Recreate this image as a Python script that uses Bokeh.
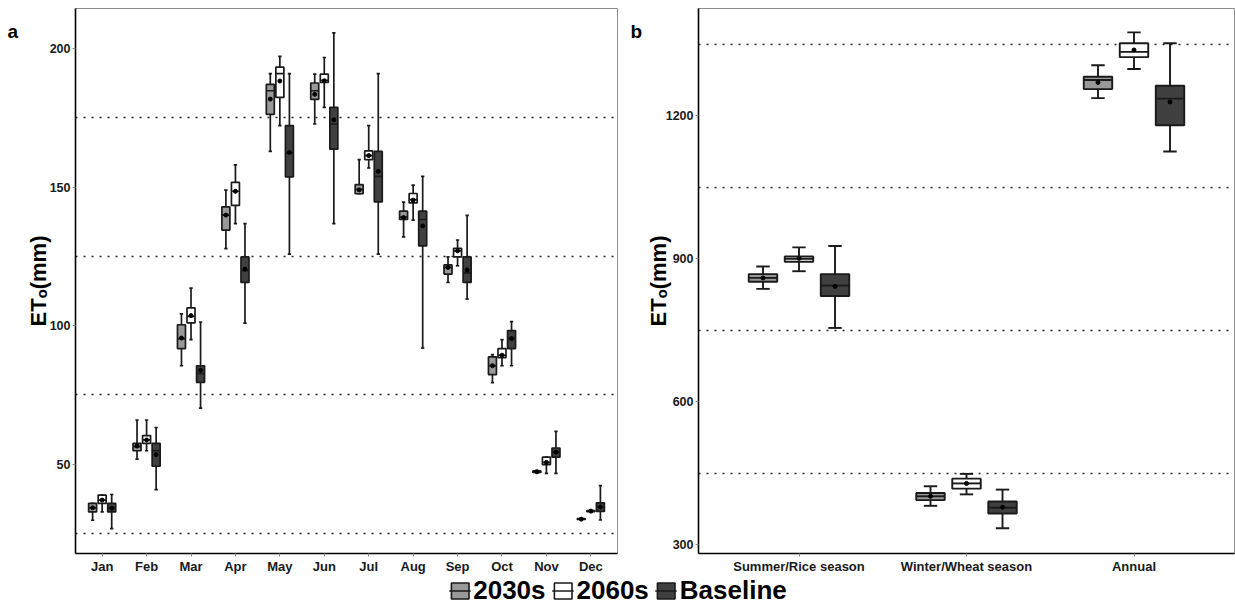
import numpy as np
from bokeh.plotting import figure
from bokeh.models import ColumnDataSource, Range1d, FixedTicker, Legend, LegendItem
from bokeh.core.properties import value
from bokeh.layouts import column, row
from bokeh.embed import file_html
from bokeh.resources import INLINE

# ---------------- data ----------------
months = ["Jan", "Feb", "Mar", "Apr", "May", "Jun", "Jul", "Aug", "Sep", "Oct", "Nov", "Dec"]
seasons = ["Summer/Rice season", "Winter/Wheat season", "Annual"]
series = ["2030s", "2060s", "Baseline"]
panel_letters = ["a", "b"]

# rows: [lower whisker, Q1, median, Q3, upper whisker, mean]  (ETo, mm)
a_2030s = [
    [29.7, 32.7, 34.2, 35.8, 35.8, 34.2],
    [51.8, 54.8, 56.3, 57.5, 65.9, 56.5],
    [85.5, 91.7, 95.3, 100.3, 104.2, 95.5],
    [127.8, 134.5, 139.9, 142.9, 148.9, 139.9],
    [162.9, 176.3, 184.8, 187.1, 191.0, 181.8],
    [172.8, 181.7, 184.8, 187.6, 190.8, 183.5],
    [147.6, 147.6, 149.2, 150.9, 159.9, 149.0],
    [132.0, 138.3, 139.2, 141.3, 144.6, 139.0],
    [115.6, 118.6, 121.0, 121.9, 124.8, 121.0],
    [79.4, 82.3, 85.5, 88.7, 89.5, 85.5],
    [47.0, 47.0, 47.2, 47.5, 47.6, 47.2],
    [29.9, 30.0, 30.1, 30.3, 30.4, 30.1],
]
a_2060s = [
    [32.7, 35.8, 37.0, 38.8, 38.8, 37.0],
    [54.8, 57.5, 58.7, 60.3, 65.9, 58.7],
    [94.9, 101.0, 103.3, 106.4, 113.5, 103.6],
    [136.8, 143.4, 148.5, 151.7, 158.0, 148.5],
    [172.2, 182.4, 191.0, 193.3, 197.2, 188.3],
    [178.8, 187.8, 188.6, 190.8, 196.8, 188.4],
    [156.9, 159.9, 161.4, 163.1, 172.2, 161.4],
    [138.1, 144.3, 145.5, 147.7, 150.7, 145.3],
    [121.6, 124.8, 127.0, 127.9, 130.9, 127.0],
    [85.5, 88.4, 89.3, 91.7, 94.9, 89.3],
    [46.6, 49.8, 50.6, 52.5, 52.5, 50.6],
    [32.7, 32.8, 33.0, 33.2, 33.3, 33.0],
]
a_baseline = [
    [26.7, 32.7, 34.2, 35.8, 39.0, 34.0],
    [40.8, 49.2, 54.8, 57.5, 63.2, 53.4],
    [70.2, 79.5, 82.7, 85.5, 101.3, 83.9],
    [100.9, 115.6, 119.8, 124.8, 136.8, 120.4],
    [125.8, 153.7, 162.3, 172.2, 191.0, 162.5],
    [136.8, 163.7, 172.8, 178.8, 205.7, 174.3],
    [125.8, 144.7, 153.9, 162.9, 191.0, 155.7],
    [91.9, 128.8, 138.3, 141.3, 153.9, 136.0],
    [109.6, 115.6, 119.0, 124.8, 139.8, 120.1],
    [85.5, 91.7, 95.3, 98.2, 101.4, 95.3],
    [46.6, 52.5, 54.3, 55.8, 61.8, 54.3],
    [29.8, 32.9, 34.5, 36.0, 42.2, 34.5],
]

b_2030s = [
    [837, 852, 860, 868, 884, 860],
    [382, 394, 402, 409, 423, 402],
    [1237, 1256, 1275, 1282, 1306, 1270],
]
b_2060s = [
    [874, 894, 900, 905, 924, 901],
    [406, 418, 429, 439, 449, 429],
    [1298, 1323, 1334, 1352, 1375, 1338],
]
b_baseline = [
    [755, 822, 844, 868, 927, 842],
    [335, 366, 378, 391, 416, 379],
    [1125, 1180, 1236, 1263, 1352, 1229],
]

a_major = [50, 100, 150, 200]
a_minor = [25, 75, 125, 175]
b_major = [300, 600, 900, 1200]
b_minor = [450, 750, 1050, 1350]

# ---------------- styles ----------------
FILLS = {"2030s": "#999999", "2060s": "#ffffff", "Baseline": "#404040"}
FONT = "Liberation Sans"
INK = "#1a1a1a"
ROW_H = 576


def draw_boxes(p, groups, dodge, box_w, cap_w, lw):
    for k, (name, rows) in enumerate(groups):
        arr = np.array(rows, dtype=float)
        n = arr.shape[0]
        x = np.arange(1, n + 1) + (k - 1) * dodge
        src = ColumnDataSource(dict(
            x=x, lo=arr[:, 0], q1=arr[:, 1], med=arr[:, 2], q3=arr[:, 3],
            hi=arr[:, 4], mean=arr[:, 5],
            xl=x - box_w / 2, xr=x + box_w / 2, cl=x - cap_w / 2, cr=x + cap_w / 2,
        ))
        p.segment(x0="x", y0="lo", x1="x", y1="hi", source=src, line_color=INK, line_width=lw)
        p.segment(x0="cl", y0="lo", x1="cr", y1="lo", source=src, line_color=INK, line_width=lw)
        p.segment(x0="cl", y0="hi", x1="cr", y1="hi", source=src, line_color=INK, line_width=lw)
        p.vbar(x="x", width=box_w, bottom="q1", top="q3", source=src,
               fill_color=FILLS[name], line_color=INK, line_width=lw)
        p.segment(x0="xl", y0="med", x1="xr", y1="med", source=src, line_color=INK, line_width=lw)
        p.scatter(x="x", y="mean", source=src, size=4, color="black")


def style(p, major, minor, ylabel, title_standoff):
    yt = FixedTicker(ticks=major, minor_ticks=minor)
    p.yaxis.ticker = yt
    p.ygrid.ticker = yt
    p.ygrid.grid_line_color = None
    p.ygrid.minor_grid_line_color = "#262626"
    p.ygrid.minor_grid_line_dash = "2 6"
    p.ygrid.minor_grid_line_width = 1.6
    p.xgrid.visible = False
    for ax in (p.xaxis, p.yaxis):
        ax.axis_line_color = "black"
        ax.axis_line_width = 1.6
        ax.major_tick_out = 3
        ax.major_tick_in = 0
        ax.major_tick_line_color = "#888888"
        ax.minor_tick_out = 0
        ax.minor_tick_in = 0
        ax.major_label_text_font = FONT
        ax.major_label_text_font_style = "bold"
        ax.major_label_text_color = INK
        ax.major_label_standoff = 2
    p.xaxis.major_label_text_font_size = "13px"
    p.yaxis.major_label_text_font_size = "12.5px"
    p.yaxis.axis_label = ylabel
    p.yaxis.axis_label_text_font = FONT
    p.yaxis.axis_label_text_font_size = "22px"
    p.yaxis.axis_label_text_font_style = "bold"
    p.yaxis.axis_label_text_color = "black"
    p.yaxis.axis_label_standoff = title_standoff
    p.outline_line_color = "#8c8c8c"
    p.outline_line_width = 1
    p.background_fill_color = "white"
    p.border_fill_color = "white"


def letter_strip(text, width, left):
    # narrow blank strip whose own frame carries the panel letter
    f = figure(width=width, height=ROW_H, min_border=0, x_axis_type=None, y_axis_type=None,
               x_range=Range1d(0, width), y_range=Range1d(ROW_H, 0),
               toolbar_location=None, output_backend="svg")
    f.outline_line_color = None
    f.background_fill_color = "white"
    f.border_fill_color = "white"
    f.text(x=[left], y=[24], text=[text], text_font=value(FONT), text_font_style="bold",
           text_font_size="19px", text_color="black", text_baseline="alphabetic",
           text_align="left")
    return f


ylab = "ET\u2092(mm)"

# ---------------- panel a ----------------
fa = letter_strip(panel_letters[0], 20, 7)
pa = figure(width=610, height=ROW_H, min_border_left=55, min_border_right=13,
            min_border_top=8, min_border_bottom=20,
            x_range=Range1d(0.4, 12.6), y_range=Range1d(17.7, 214.5),
            toolbar_location=None, output_backend="svg")
style(pa, a_major, a_minor, ylab, -4)
pa.xaxis.ticker = FixedTicker(ticks=list(range(1, len(months) + 1)))
pa.xaxis.major_label_overrides = {i + 1: m for i, m in enumerate(months)}
draw_boxes(pa, [("2030s", a_2030s), ("2060s", a_2060s), ("Baseline", a_baseline)],
           dodge=0.215, box_w=0.18, cap_w=0.075, lw=1.7)

# ---------------- panel b ----------------
fb = letter_strip(panel_letters[1], 12, 0)
pb = figure(width=593, height=ROW_H, min_border_left=50, min_border_right=1,
            min_border_top=8, min_border_bottom=20,
            x_range=Range1d(0.4, 3.6), y_range=Range1d(282, 1425),
            toolbar_location=None, output_backend="svg")
style(pb, b_major, b_minor, ylab, -8)
pb.xaxis.ticker = FixedTicker(ticks=list(range(1, len(seasons) + 1)))
pb.xaxis.major_label_overrides = {i + 1: s for i, s in enumerate(seasons)}
draw_boxes(pb, [("2030s", b_2030s), ("2060s", b_2060s), ("Baseline", b_baseline)],
           dodge=0.215, box_w=0.17, cap_w=0.08, lw=1.9)

# ---------------- legend strip ----------------
pl = figure(width=1235, height=28, min_border=0, x_range=Range1d(0, 1), y_range=Range1d(0, 1),
            toolbar_location=None, output_backend="svg")
pl.axis.visible = False
pl.grid.visible = False
pl.outline_line_color = None
items = []
for name in series:
    src = ColumnDataSource(dict(x=[np.nan], top=[np.nan], bottom=[np.nan],
                                x0=[np.nan], x1=[np.nan], y=[np.nan]))
    rb = pl.vbar(x="x", top="top", bottom="bottom", width=0.1, source=src,
                 fill_color=FILLS[name], line_color=INK, line_width=1.6)
    rm = pl.segment(x0="x0", y0="y", x1="x1", y1="y", source=src, line_color=INK, line_width=1.4)
    items.append(LegendItem(label=name, renderers=[rb, rm]))
leg = Legend(items=items, orientation="horizontal", location="center",
             label_text_font=FONT, label_text_font_style="bold", label_text_font_size="26px",
             label_text_color="black", glyph_width=22, glyph_height=20, label_standoff=3,
             spacing=6, padding=0, margin=0, border_line_color=None, background_fill_alpha=0)
pl.add_layout(leg, "center")

layout = column(row(fa, pa, fb, pb), pl)
open("out.html", "w").write(file_html(layout, INLINE))
